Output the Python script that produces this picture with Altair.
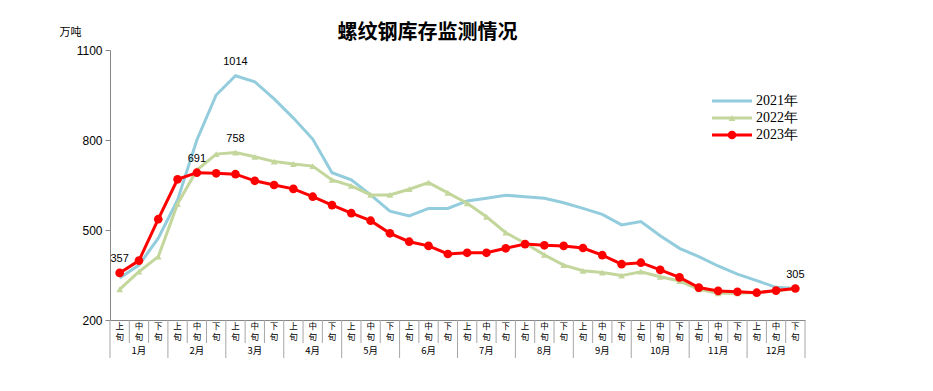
import altair as alt
import pandas as pd

months = [f"{m}月" for m in range(1, 13)]
xun = ["上旬", "中旬", "下旬"]
series_names = ["2021年", "2022年", "2023年"]
v2021 = [340, 383, 473, 600, 800, 950, 1014, 994, 937, 873, 803, 691, 667, 617, 563, 547, 572, 572,
         597, 606, 616, 611, 606, 591, 572, 552, 517, 528, 481, 439, 411, 380, 353, 331, 309, 305]
v2022 = [302, 361, 411, 587, 700, 753, 758, 744, 728, 720, 713, 667, 647, 617, 617, 636, 658, 624,
         589, 544, 491, 456, 417, 383, 364, 358, 348, 361, 344, 330, 302, 289, 289, 292, 297, 305]
v2023 = [357, 398, 536, 669, 691, 689, 686, 664, 650, 637, 611, 583, 556, 531, 489, 461, 447, 420,
         424, 424, 439, 453, 449, 447, 440, 416, 386, 391, 367, 342, 308, 297, 294, 291, 298, 305]
labelled = [("2023年", 0), ("2023年", 4), ("2022年", 6), ("2021年", 6), ("2023年", 35)]
colors = ["#93CDDD", "#C3D69B", "#FF0000"]
title_text = "螺纹钢库存监测情况"

W, H = 695, 270

rows = []
for s, vals in zip(series_names, [v2021, v2022, v2023]):
    for i, v in enumerate(vals):
        rows.append({"series": s, "idx": i, "value": v,
                     "label": str(v) if (s, i) in labelled else ""})
df = pd.DataFrame(rows)

cats = pd.DataFrame([{"idx": m * 3 + k, "c1": xun[k][0], "c2": xun[k][1]}
                     for m in range(12) for k in range(3)])
mon = pd.DataFrame([{"idx": m * 3 + 1, "month": months[m]} for m in range(12)])
seps = pd.DataFrame([{"pos": i - 0.5, "long": i % 3 == 0} for i in range(37)])

xs = alt.Scale(domain=[-0.5, 35.5], nice=False, zero=False)
ys = alt.Scale(domain=[200, 1100], nice=False, zero=False)
cs = alt.Scale(domain=series_names, range=colors)

X = alt.X("idx:Q", scale=xs, axis=alt.Axis(labels=False, ticks=False, grid=False,
                                              domainColor="#868686", title=None))
Y = alt.Y("value:Q", scale=ys, axis=alt.Axis(values=[200, 500, 800, 1100], grid=False, format="d",
                                                domainColor="#868686", tickColor="#868686",
                                                tickSize=5, labelFontSize=12, labelColor="black",
                                                labelFont="Liberation Sans", labelPadding=3,
                                                title="万吨", titleAngle=0, titleX=-40, titleY=-18,
                                                titleAlign="center", titleBaseline="middle",
                                                titleFont="Noto Sans CJK SC", titleFontSize=11,
                                                titleFontWeight="normal", titleColor="black"))

base = alt.Chart(df)
lines = base.mark_line(strokeWidth=3).encode(
    x=X, y=Y, color=alt.Color("series:N", scale=cs, legend=None),
    detail="series:N", order="idx:Q")
pts22 = base.transform_filter(alt.datum.series == "2022年").mark_point(
    shape="triangle-up", filled=True, size=45, opacity=1).encode(
    x="idx:Q", y="value:Q", color=alt.Color("series:N", scale=cs, legend=None))
pts23 = base.transform_filter(alt.datum.series == "2023年").mark_point(
    shape="circle", filled=True, size=75, opacity=1).encode(
    x="idx:Q", y="value:Q", color=alt.Color("series:N", scale=cs, legend=None))
labels = base.transform_filter(alt.datum.label != "").mark_text(
    dy=-14, fontSize=11, font="Liberation Sans", color="black", baseline="middle").encode(
    x="idx:Q", y="value:Q", text="label:N")

short_sep = alt.Chart(seps).mark_rule(color="#A6A6A6", strokeWidth=1).encode(
    x=alt.X("pos:Q", scale=xs), y=alt.value(H), y2=alt.value(H + 23))
long_sep = alt.Chart(seps).transform_filter(alt.datum.long).mark_rule(
    color="#A6A6A6", strokeWidth=1).encode(
    x=alt.X("pos:Q", scale=xs), y=alt.value(H + 23), y2=alt.value(H + 38))
xun_top = alt.Chart(cats).mark_text(fontSize=8.5, baseline="middle",
                                    font="Noto Sans CJK SC", color="black").encode(
    x=alt.X("idx:Q", scale=xs), y=alt.value(H + 6), text="c1:N")
xun_bot = alt.Chart(cats).mark_text(fontSize=8.5, baseline="middle",
                                    font="Noto Sans CJK SC", color="black").encode(
    x=alt.X("idx:Q", scale=xs), y=alt.value(H + 17), text="c2:N")
mon_txt = alt.Chart(mon).mark_text(fontSize=9.5, baseline="middle",
                                   font="Noto Sans CJK SC", color="black").encode(
    x=alt.X("idx:Q", scale=xs), y=alt.value(H + 31), text="month:N")

leg = pd.DataFrame({"series": series_names, "ly": [51, 68, 85]})
leg_line = alt.Chart(leg).mark_rule(strokeWidth=3).encode(
    x=alt.value(602), x2=alt.value(642), y=alt.Y("ly:Q", scale=None),
    color=alt.Color("series:N", scale=cs, legend=None))
leg_tri = alt.Chart(leg).transform_filter(alt.datum.series == "2022年").mark_point(
    shape="triangle-up", filled=True, size=45, opacity=1).encode(
    x=alt.value(622), y=alt.Y("ly:Q", scale=None),
    color=alt.Color("series:N", scale=cs, legend=None))
leg_cir = alt.Chart(leg).transform_filter(alt.datum.series == "2023年").mark_point(
    shape="circle", filled=True, size=75, opacity=1).encode(
    x=alt.value(622), y=alt.Y("ly:Q", scale=None),
    color=alt.Color("series:N", scale=cs, legend=None))
leg_txt = alt.Chart(leg).mark_text(align="left", baseline="middle", fontSize=14,
                                   font="Liberation Serif", color="black").encode(
    x=alt.value(646), y=alt.Y("ly:Q", scale=None), text="series:N")

title_mark = alt.Chart(pd.DataFrame({"t": [title_text]})).mark_text(
    font="Noto Sans CJK SC", fontSize=20, fontWeight="bold", color="black",
    align="center", baseline="middle").encode(
    x=alt.value(W / 2 - 30), y=alt.value(-17), text="t:N")

chart = alt.layer(
    lines, pts22, pts23, labels, short_sep, long_sep, xun_top, xun_bot, mon_txt,
    leg_line, leg_tri, leg_cir, leg_txt, title_mark
).properties(
    width=W, height=H,
    autosize=alt.AutoSizeParams(type="none"),
    padding={"left": 102, "top": 42, "right": 20, "bottom": 60},
).configure_view(stroke=None)

chart.save("out.html", embed_options={"renderer": "svg", "actions": False})
